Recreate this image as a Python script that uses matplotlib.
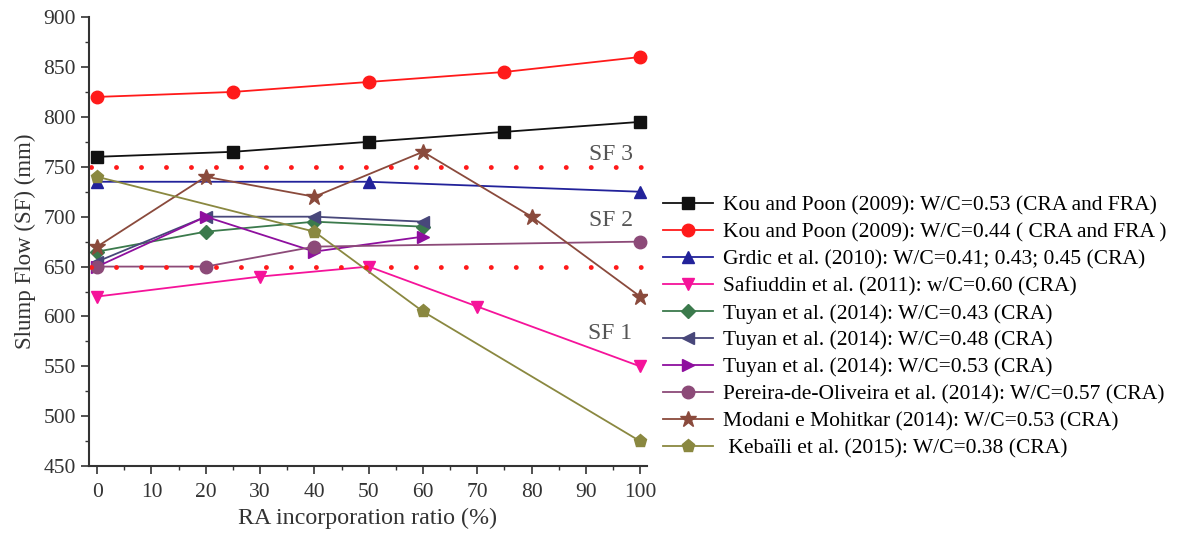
import numpy as np
import matplotlib
matplotlib.use('Agg')
import matplotlib.pyplot as plt
from matplotlib.ticker import MultipleLocator

plt.rcParams['font.family'] = ['Liberation Serif', 'DejaVu Serif']

# RA incorporation ratio (%) and slump flow (mm) for each study
kou53_x = [0, 25, 50, 75, 100]
kou53_y = [760, 765, 775, 785, 795]
kou44_x = [0, 25, 50, 75, 100]
kou44_y = [820, 825, 835, 845, 860]
grdic_x = [0, 50, 100]
grdic_y = [735, 735, 725]
safi_x = [0, 30, 50, 70, 100]
safi_y = [620, 640, 650, 610, 550]
tuyan43_x = [0, 20, 40, 60]
tuyan43_y = [665, 685, 695, 690]
tuyan48_x = [0, 20, 40, 60]
tuyan48_y = [655, 700, 700, 695]
tuyan53_x = [0, 20, 40, 60]
tuyan53_y = [650, 700, 665, 680]
pereira_x = [0, 20, 40, 100]
pereira_y = [650, 650, 670, 675]
modani_x = [0, 20, 40, 60, 80, 100]
modani_y = [670, 740, 720, 765, 700, 620]
kebaili_x = [0, 40, 60, 100]
kebaili_y = [740, 685, 605, 475]

sf_limits = [750, 650]
sf_labels = ['SF 3', 'SF 2', 'SF 1']
sf_label_y = [762, 696, 583]

series = [
    (kou53_x, kou53_y, 's', '#111111', 'Kou and Poon (2009): W/C=0.53 (CRA and FRA)'),
    (kou44_x, kou44_y, 'o', '#ff1a1a', 'Kou and Poon (2009): W/C=0.44 ( CRA and FRA )'),
    (grdic_x, grdic_y, '^', '#22229a', 'Grdic et al. (2010): W/C=0.41; 0.43; 0.45 (CRA)'),
    (safi_x, safi_y, 'v', '#f5139a', 'Safiuddin et al. (2011): w/C=0.60 (CRA)'),
    (tuyan43_x, tuyan43_y, 'D', '#3b7a4c', 'Tuyan et al. (2014): W/C=0.43 (CRA)'),
    (tuyan48_x, tuyan48_y, '<', '#48477a', 'Tuyan et al. (2014): W/C=0.48 (CRA)'),
    (tuyan53_x, tuyan53_y, '>', '#8e0f9e', 'Tuyan et al. (2014): W/C=0.53 (CRA)'),
    (pereira_x, pereira_y, 'o', '#8c4a78', 'Pereira-de-Oliveira et al. (2014): W/C=0.57 (CRA)'),
    (modani_x, modani_y, '*', '#8a4a3c', 'Modani e Mohitkar (2014): W/C=0.53 (CRA)'),
    (kebaili_x, kebaili_y, 'p', '#8a8840', ' Kebaïli et al. (2015): W/C=0.38 (CRA)'),
]

fig = plt.figure(figsize=(11.79, 5.34), dpi=100)
ax = fig.add_axes([0.0755, 0.127, 0.473, 0.841])

for x, y, m, c, lab in series:
    ms = {'*': 12, 'D': 7.5, 'p': 9.5}.get(m, 9)
    ax.plot(x, y, color=c, marker=m, markersize=ms, linewidth=1.3, label=lab)

# class limits for slump flow (dotted)
for v in sf_limits:
    ax.plot([-1.1, 100.2], [v, v], color='#ff1a1a', linestyle=(0, (0.01, 5.13)),
            linewidth=3.5, dash_capstyle='round', clip_on=False)

for lab, yv in zip(sf_labels, sf_label_y):
    ax.text(98.6, yv, lab, color='#555555', fontsize=17, ha='right', va='center')

ax.set_xlim(-1.5, 101.2)
ax.set_ylim(450, 900)
ax.xaxis.set_major_locator(MultipleLocator(10))
ax.xaxis.set_minor_locator(MultipleLocator(5))
ax.yaxis.set_major_locator(MultipleLocator(50))
ax.yaxis.set_minor_locator(MultipleLocator(25))
ax.tick_params(which='major', length=6, width=1.2, labelsize=15.5, colors='#333333')
ax.tick_params(axis='x', which='major', pad=6)
ax.tick_params(which='minor', length=3, width=1.0, colors='#333333')
ax.spines['top'].set_visible(False)
ax.spines['right'].set_visible(False)
for s in ['left', 'bottom']:
    ax.spines[s].set_linewidth(1.5)
    ax.spines[s].set_color('#333333')

ax.set_xlabel('RA incorporation ratio (%)', fontsize=17.3, color='#333333', labelpad=4)
ax.set_ylabel('Slump Flow (SF) (mm)', fontsize=16.5, color='#333333', labelpad=5)

ax.legend(loc='center left', bbox_to_anchor=(1.03, 0.31), frameon=False,
          fontsize=15.5, handlelength=2.3, labelspacing=0.32, handletextpad=0.45,
          borderaxespad=0, borderpad=0)

fig.savefig('out.png', dpi=100)
